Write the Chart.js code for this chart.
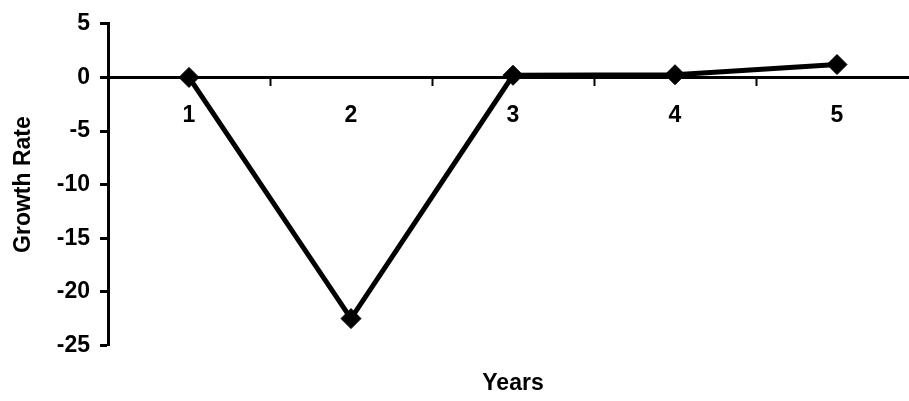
<!DOCTYPE html>
<html>
<head>
<meta charset="utf-8">
<script src="https://cdn.jsdelivr.net/npm/chart.js@4"></script>
<style>
  html, body { margin: 0; padding: 0; background: #fff; overflow: hidden; width: 909px; height: 401px; }
  #wrap { position: relative; width: 918px; height: 401px; }
  #c { display: block; }
</style>
</head>
<body>
<div id="wrap"><canvas id="c"></canvas></div>
<script>
const categories = ['1', '2', '3', '4', '5'];
const growthRate = [0, -22.5, 0.2, 0.25, 1.2];
const yMin = -25;
const yMax = 5;
const yStep = 5;
const xTitle = 'Years';
const yTitle = 'Growth Rate';

const FONT = '"Liberation Sans", Arial, Helvetica, sans-serif';
const FSIZE = 23;

new Chart(document.getElementById('c'), {
  type: 'line',
  data: {
    labels: categories,
    datasets: [{
      data: growthRate,
      borderColor: '#000',
      backgroundColor: '#000',
      borderWidth: 5,
      tension: 0,
      pointStyle: 'rectRot',
      pointRadius: 10,
      pointHoverRadius: 10,
      pointBackgroundColor: '#000',
      pointBorderColor: '#000',
      pointBorderWidth: 1,
      clip: false
    }]
  },
  options: {
    responsive: true,
    maintainAspectRatio: false,
    animation: false,
    devicePixelRatio: 1,
    layout: { autoPadding: false, padding: { top: 22, left: 0, right: 0, bottom: 0 } },
    plugins: {
      legend: { display: false },
      tooltip: { enabled: false },
      title: {
        display: true,
        text: xTitle,
        position: 'bottom',
        fullSize: false,
        color: '#000',
        font: { family: FONT, size: FSIZE, weight: 'bold' },
        padding: { top: 24, bottom: 4 }
      }
    },
    scales: {
      x: {
        type: 'category',
        position: { y: 0 },
        offset: true,
        afterFit: (scale) => { scale.paddingLeft = 0; scale.paddingRight = 0; },
        grid: {
          offset: true,
          drawOnChartArea: false,
          drawTicks: true,
          tickLength: 7,
          tickWidth: 2,
          tickColor: '#000'
        },
        border: { display: true, color: '#000', width: 3 },
        ticks: {
          color: '#000',
          padding: 17,
          font: { family: FONT, size: FSIZE, weight: 'bold' },
          maxRotation: 0
        }
      },
      y: {
        min: yMin,
        max: yMax,
        position: 'left',
        afterFit: (scale) => { scale.width = 108; },
        grid: {
          drawOnChartArea: false,
          drawTicks: true,
          tickLength: 8,
          tickWidth: 3,
          tickColor: '#000'
        },
        border: { display: true, color: '#000', width: 3 },
        ticks: {
          stepSize: yStep,
          color: '#000',
          padding: 10,
          font: { family: FONT, size: FSIZE, weight: 'bold' }
        },
        title: {
          display: true,
          text: yTitle,
          color: '#000',
          padding: { top: 10, bottom: 0 },
          font: { family: FONT, size: FSIZE, weight: 'bold' }
        }
      }
    }
  }
});
</script>
</body>
</html>
